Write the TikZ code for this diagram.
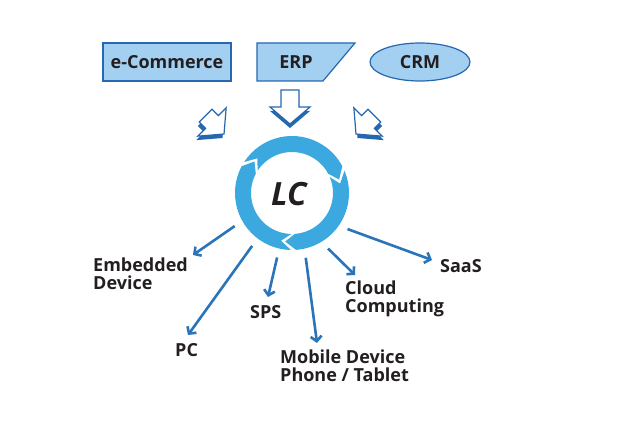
\documentclass[tikz,border=0pt]{standalone}
\usepackage{fontspec}
\setmainfont{Open Sans}
\usetikzlibrary{shapes.geometric,arrows.meta}

\definecolor{boxfill}{RGB}{163,208,240}
\definecolor{boxline}{RGB}{38,104,176}
\definecolor{ringblue}{RGB}{59,168,224}
\definecolor{linkblue}{RGB}{42,116,186}
\definecolor{inkdark}{RGB}{35,31,32}

\tikzset{
  labelfont/.style={font=\fontsize{18}{18}\selectfont\bfseries, text=inkdark},
  srcbox/.style={labelfont, draw=boxline, fill=boxfill, line width=1.2pt, inner sep=0pt},
  target/.style={labelfont, align=left, inner sep=0pt, anchor=west},
  link/.style={draw=linkblue, line width=2.6pt, -{Straight Barb[length=5pt,width=11pt]}}
}

% hollow block arrow, pointing down, shaft starting at #1
\newcommand\arrowpath[1]{(-9,#1) -- (9,#1) -- (9,0) -- (20,0) -- (0,17) -- (-20,0) -- (-9,0) -- cycle}
% position, rotation, shaft start, shadow x offset
\newcommand\inarrow[4]{%
  \fill[boxline, shift={#1}, shift={(#4,4)}, rotate=#2] \arrowpath{#3};
  \filldraw[draw=boxline, fill=white, line width=1.2pt, shift={#1}, rotate=#2] \arrowpath{#3};}

% one piece of the ring, from angle #1 down to #2
\newcommand\ringseg[2]{%
  \fill[ringblue] (#1:57) arc[start angle=#1, end angle=#2, radius=57]
    -- (#2-12:49) -- (#2:41) arc[start angle=#2, end angle=#1, radius=41]
    -- (#1-12:49) -- cycle;}

\begin{document}
\begin{tikzpicture}[x=1pt, y=-1pt]
  \useasboundingbox[fill=white] (0,0) rectangle (630,446);

  % sources
  \node[srcbox, minimum width=128, minimum height=38] (ecom) at (167,62) {e-Commerce};
  \filldraw[draw=boxline, fill=boxfill, line width=1.2pt] (257,43) -- (355,43) -- (323,81) -- (257,81) -- cycle;
  \node[labelfont] (erp) at (296,62) {ERP};
  \node[srcbox, ellipse, minimum width=100, minimum height=38] (crm) at (420,62) {CRM};

  \inarrow{(212,122)}{45}{-9}{-1.5}
  \inarrow{(290,107)}{0}{-17}{0}
  \inarrow{(368,122)}{-45}{-9}{1.5}

  % ring
  \begin{scope}[shift={(292,193)}, yscale=-1]
    \ringseg{147}{28}
    \ringseg{23}{-86}
    \ringseg{-91}{-208}
  \end{scope}
  \node[circle, minimum size=132, inner sep=0pt] (lc) at (292,193) {};
  \node[font=\fontsize{32}{32}\selectfont\bfseries\itshape, text=inkdark] (lctext) at (289,194) {LC};

  % targets
  \node[target] (emb) at (93,274) {Embedded\\Device};
  \node[target] (pc) at (175,350) {PC};
  \node[target] (sps) at (250,312) {SPS};
  \node[target] (mob) at (280,366) {Mobile Device\\Phone / Tablet};
  \node[target] (cloud) at (345,299) {Cloud\\Computing};
  \node[target] (saas) at (440,266) {SaaS};

  \coordinate (e1) at (193,255);
  \coordinate (e2) at (188,335);
  \coordinate (e3) at (268,297);
  \coordinate (e4) at (317,343);
  \coordinate (e5) at (355,275);
  \coordinate (e6) at (432,260);

  \draw[link] (lc.-150) -- (e1);
  \draw[link] (lc.-127) -- (e2);
  \draw[link] (lc.-103) -- (e3);
  \draw[link] (lc.-78) -- (e4);
  \draw[link] (lc.-57) -- (e5);
  \draw[link] (lc.-33) -- (e6);
\end{tikzpicture}
\end{document}
